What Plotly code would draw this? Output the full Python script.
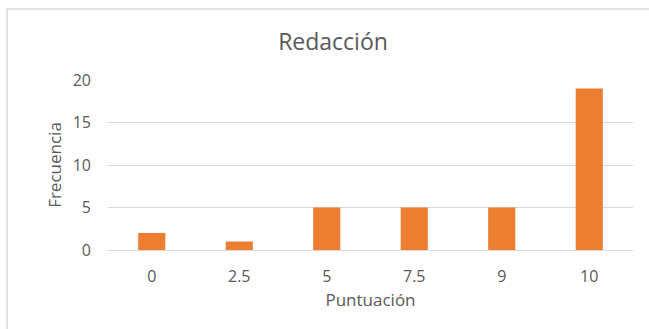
import plotly.graph_objects as go

# Score categories and how many students got each one
puntuaciones = ["0", "2.5", "5", "7.5", "9", "10"]
frecuencias = [2, 1, 5, 5, 5, 19]

TEXT = "#595959"
GRID = "#d9d9d9"
FONT = "Open Sans"

fig = go.Figure(
    go.Bar(
        x=puntuaciones,
        y=frecuencias,
        marker=dict(color="#ED7D31", line=dict(width=0)),
    )
)

fig.update_layout(
    width=649,
    height=329,
    margin=dict(l=108, r=16, t=80, b=79),
    paper_bgcolor="white",
    plot_bgcolor="white",
    bargap=0.69,
    showlegend=False,
    font=dict(family=FONT, color=TEXT, size=16),
    title=dict(
        text="Redacción",
        x=333 / 649,
        xanchor="center",
        y=1 - 42 / 329,
        yanchor="middle",
        font=dict(size=23, color=TEXT, family=FONT),
    ),
    xaxis=dict(
        type="category",
        showgrid=False,
        showline=False,
        ticks="",
        ticklabelstandoff=15,
        tickfont=dict(size=16, color=TEXT),
        title=dict(text="Puntuación", font=dict(size=17, color=TEXT), standoff=8),
    ),
    yaxis=dict(
        range=[0, 20],
        tickvals=[0, 5, 10, 15, 20],
        showgrid=True,
        gridcolor=GRID,
        gridwidth=1.3,
        zeroline=True,
        zerolinecolor=GRID,
        zerolinewidth=1.3,
        showline=False,
        ticks="",
        ticklabelstandoff=16,
        tickfont=dict(size=16, color=TEXT),
        title=dict(text="Frecuencia", font=dict(size=17, color=TEXT), standoff=6),
    ),
    shapes=[
        dict(
            type="rect",
            xref="paper",
            yref="paper",
            x0=(7 - 108) / 525,
            x1=(655 - 108) / 525,
            y0=(250 - 335) / 170,
            y1=(250 - 9) / 170,
            line=dict(color=GRID, width=1.5),
            fillcolor="rgba(0,0,0,0)",
            layer="below",
        )
    ],
)

fig.write_html("out.html")
